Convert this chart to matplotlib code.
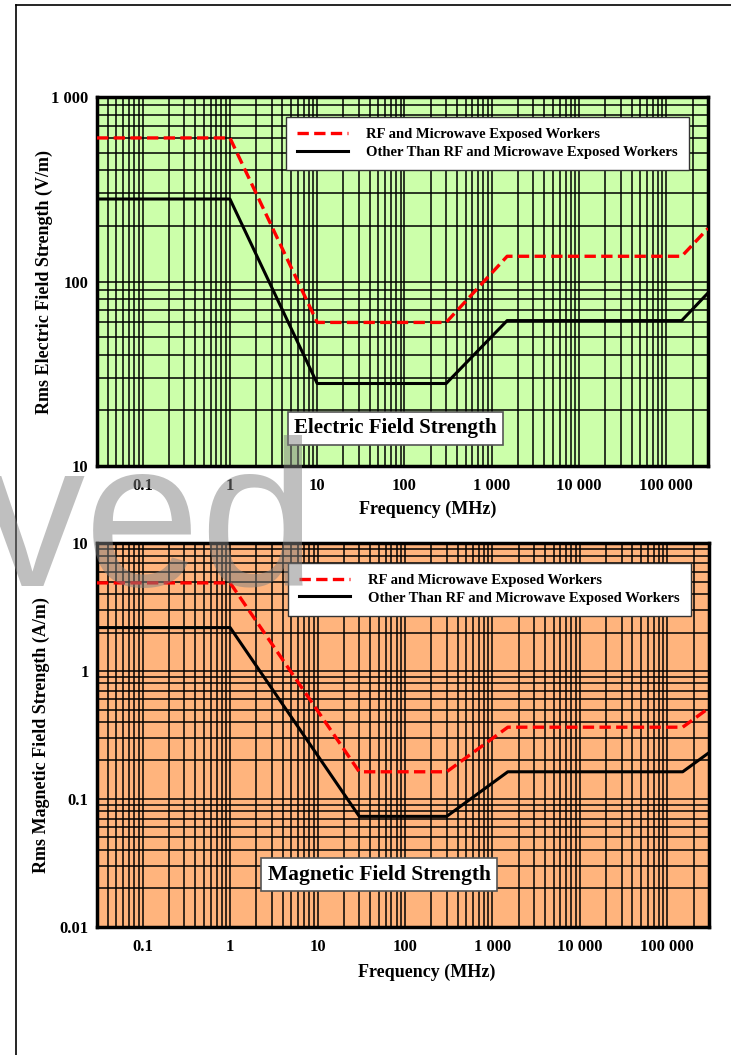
import matplotlib.pyplot as plt
import matplotlib.ticker as mticker
from matplotlib.lines import Line2D

# breakpoints of the exposure limits (MHz)
freq_e = [0.03, 1, 10, 300, 1500, 150000, 300000]
e_rf = [600, 600, 60, 60, 137, 137, 194]
e_other = [280, 280, 28, 28, 61.4, 61.4, 86.7]

freq_h = [0.03, 1, 30, 300, 1500, 150000, 300000]
h_rf = [4.9, 4.9, 0.163, 0.163, 0.364, 0.364, 0.515]
h_other = [2.19, 2.19, 0.073, 0.073, 0.163, 0.163, 0.23]

x_ticks = [0.1, 1, 10, 100, 1000, 10000, 100000]
x_labels = ["0.1", "1", "10", "100", "1 000", "10 000", "100 000"]
ye_ticks = [10, 100, 1000]
ye_labels = ["10", "100", "1 000"]
yh_ticks = [0.01, 0.1, 1, 10]
yh_labels = ["0.01", "0.1", "1", "10"]

series_names = ["RF and Microwave Exposed Workers",
                "Other Than RF and Microwave Exposed Workers"]

plt.rcParams['font.family'] = ['Liberation Serif', 'DejaVu Serif']
plt.rcParams['font.weight'] = 'bold'

W, H = 731, 1055
fig = plt.figure(figsize=(W / 100, H / 100), dpi=100)

# page frame lines
fig.add_artist(Line2D([16 / W, 16 / W], [0, 1 - 5 / H], color='black', lw=1.2))
fig.add_artist(Line2D([16 / W, 1], [1 - 5 / H, 1 - 5 / H], color='black', lw=1.2))


def make_panel(rect, bg, freq, rf, other, yticks, ylabels, ylim, ylabel, ylab_x,
               title, title_xy, title_size, leg_anchor, xlab_xy):
    ax = fig.add_axes(rect)
    ax.set_facecolor(bg)
    ax.set_xscale('log')
    ax.set_yscale('log')
    ax.set_xlim(0.03, 300000)
    ax.set_ylim(*ylim)

    ax.plot(freq, rf, color='red', lw=2.4, ls=(0, (3.4, 1.6)), label=series_names[0], zorder=3)
    ax.plot(freq, other, color='black', lw=2.2, label=series_names[1], zorder=3)

    ax.xaxis.set_major_locator(mticker.FixedLocator(x_ticks))
    ax.xaxis.set_minor_locator(mticker.LogLocator(base=10, subs=range(1, 10), numticks=50))
    ax.yaxis.set_major_locator(mticker.FixedLocator(yticks))
    ax.yaxis.set_minor_locator(mticker.LogLocator(base=10, subs=range(1, 10), numticks=50))
    ax.set_xticklabels(x_labels)
    ax.set_yticklabels(ylabels)
    ax.xaxis.set_minor_formatter(mticker.NullFormatter())
    ax.yaxis.set_minor_formatter(mticker.NullFormatter())
    ax.tick_params(which='both', length=0, labelsize=12)
    ax.tick_params(axis='x', pad=9)
    ax.tick_params(axis='y', pad=6)
    ax.grid(which='both', color='black', lw=1.1, zorder=1)
    ax.set_axisbelow(True)
    for s in ax.spines.values():
        s.set_linewidth(2.5)

    ax.set_ylabel(ylabel, fontsize=13, fontweight='bold')
    ax.yaxis.set_label_coords(ylab_x, 0.5)
    ax.set_xlabel("Frequency (MHz)", fontsize=13, fontweight='bold')
    ax.xaxis.set_label_coords(*xlab_xy)

    leg = ax.legend(loc='upper right', bbox_to_anchor=leg_anchor, fontsize=10.5,
                    frameon=True, fancybox=False, framealpha=1, edgecolor='#333333',
                    handlelength=3.5, handletextpad=1.25, borderpad=0.75,
                    labelspacing=0.3, borderaxespad=0)
    leg.get_frame().set_linewidth(1.0)
    leg.set_zorder(5)
    for t in leg.get_texts():
        t.set_fontweight('bold')

    ax.text(title_xy[0], title_xy[1], title, transform=ax.transAxes,
            ha='center', va='center', fontsize=title_size, fontweight='bold', zorder=6,
            bbox=dict(boxstyle='square,pad=0.3', fc='white', ec='#555555', lw=1.2))
    return ax


ax1 = make_panel([97 / W, 1 - 466 / H, 611 / W, 369 / H], '#CCFFAA',
                 freq_e, e_rf, e_other, ye_ticks, ye_labels, (10, 1000),
                 "Rms Electric Field Strength (V/m)", -0.072, "Electric Field Strength",
                 (0.488, 0.102), 15, (0.969, 0.946), (0.542, -0.094))

ax2 = make_panel([97 / W, 1 - 926.7 / H, 612 / W, 383.4 / H], '#FFB47D',
                 freq_h, h_rf, h_other, yh_ticks, yh_labels, (0.01, 10),
                 "Rms Magnetic Field Strength (A/m)", -0.077, "Magnetic Field Strength",
                 (0.461, 0.135), 15.5, (0.970, 0.949), (0.539, -0.096))

# watermark
fig.text(316 / W, 1 - 586 / H, "ved", ha='right', va='baseline', fontsize=150,
         family='Liberation Sans', fontweight='normal',
         color='#808080', alpha=0.5, zorder=10)

fig.savefig("out.png", dpi=100, facecolor='white')
